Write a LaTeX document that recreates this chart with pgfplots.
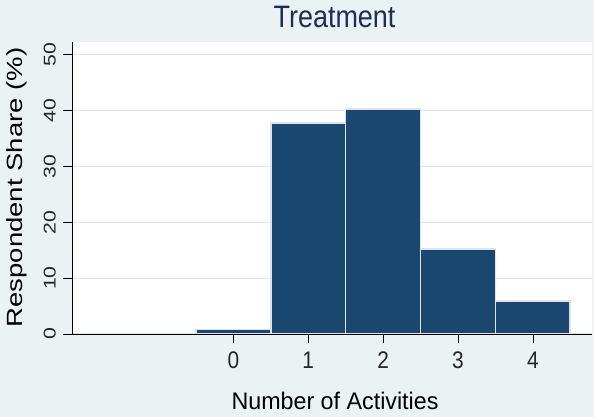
\documentclass[border=0pt]{standalone}
\usepackage{fontspec}
\usepackage{pgfplots}
\pgfplotsset{compat=1.18}
\setmainfont{Liberation Sans}
\newfontfamily\hfont[FakeStretch=0.87]{Liberation Sans}
\newfontfamily\xlfont[FakeStretch=0.97]{Liberation Sans}
\newfontfamily\vfont[FakeStretch=1.25]{Liberation Sans}
\definecolor{bgc}{RGB}{234,242,243}
\definecolor{barc}{RGB}{26,71,111}
\definecolor{titc}{RGB}{30,45,90}
\begin{document}
\begin{tikzpicture}[x=1pt,y=1pt]
\fill[bgc] (0,0) rectangle (594,417);
\begin{axis}[
  at={(72pt,83pt)}, anchor=south west,
  scale only axis, width=520pt, height=292pt,
  xmin=-2.155, xmax=4.79, ymin=0, ymax=52.3,
  axis x line*=bottom, axis y line*=left,
  axis line style={-, black, line width=0.7pt},
  axis background/.style={fill=white},
  ybar, bar width=1,
  xtick={0,1,2,3,4}, ytick={0,10,20,30,40,50},
  ymajorgrids, major grid style={bgc!90!gray, line width=1.3pt},
  tick align=outside, major tick length=9pt,
  tick style={black, line width=0.7pt},
  yticklabel style={font=\vfont\fontsize{17}{17}\selectfont, rotate=90, anchor=south, inner sep=0pt, text=black!85},
  xticklabel style={font=\hfont\fontsize{24}{24}\selectfont, anchor=north, inner sep=0pt, text=black!85},
  yticklabel shift=7pt, xticklabel shift=9pt,
  /pgf/number format/assume math mode=true,
]
\addplot[fill=barc, draw=white!85!barc, line width=1.6pt] coordinates {(0,0.84) (1,37.8) (2,40.3) (3,15.2) (4,5.86)};
\end{axis}
\node[anchor=base, text=titc, font=\hfont\fontsize{31}{31}\selectfont, inner sep=0pt] at (334.5,389) {Treatment};
\node[anchor=base, font=\xlfont\fontsize{24}{24}\selectfont, inner sep=0pt] at (335,7.7) {Number of Activities};
\node[anchor=base, rotate=90, font=\vfont\fontsize{22}{22}\selectfont, inner sep=0pt] at (23,229.5) {Respondent Share (\%)};
\end{tikzpicture}
\end{document}
